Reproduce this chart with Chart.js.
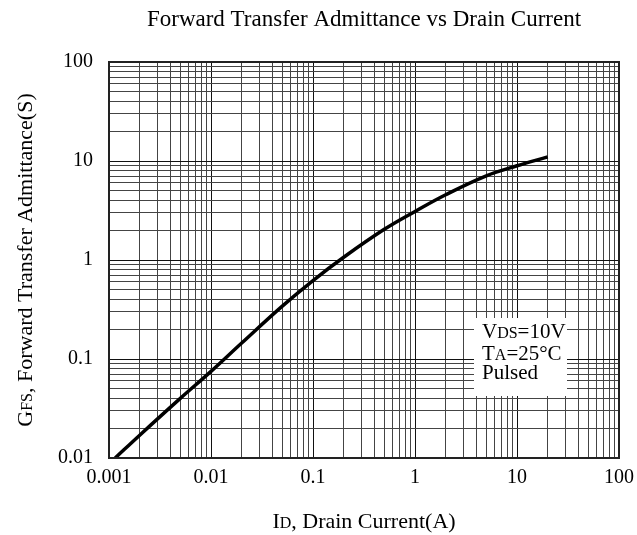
<!DOCTYPE html>
<html>
<head>
<meta charset="utf-8">
<script src="https://cdn.jsdelivr.net/npm/chart.js@4"></script>
<style>
  html, body { margin: 0; padding: 0; background: #fff; }
  #wrap { width: 637px; height: 535px; }
</style>
</head>
<body>
<div id="wrap"><canvas id="chart" width="637" height="535"></canvas></div>
<script>
// --- data ---
const currentA = [0.00115, 0.002, 0.005, 0.01, 0.02, 0.05, 0.1, 0.2, 0.5, 1, 2, 5, 10, 20];
const admittanceS = [0.01, 0.017, 0.040, 0.075, 0.145, 0.342, 0.62, 1.065, 2.04, 3.09, 4.56, 7.08, 8.95, 11.0];

const xTickLabels = ['0.001', '0.01', '0.1', '1', '10', '100'];
const yTickLabels = ['0.01', '0.1', '1', '10', '100'];

const SERIF = '"Liberation Serif", "DejaVu Serif", serif';

// gridlines at 1..9 of every decade
function decadeTicks(labels) {
  const out = [];
  const majors = labels.map(Number);
  for (let i = 0; i < majors.length; i++) {
    const m = majors[i];
    out.push(m);
    if (i < majors.length - 1) for (let k = 2; k <= 9; k++) out.push(+(m * k).toPrecision(3));
  }
  return out;
}
const findLabel = (v, labels) => labels.find(l => Math.abs(Number(l) - v) < Number(l) * 1e-6);

// draw text made of runs [text, size], e.g. subscripts as small caps
function runsWidth(ctx, runs) {
  let w = 0;
  runs.forEach(([t, s]) => { ctx.font = s + 'px ' + SERIF; w += ctx.measureText(t).width; });
  return w;
}
function drawRuns(ctx, runs, x, y, align) {
  let cx = align === 'center' ? x - runsWidth(ctx, runs) / 2 : x;
  ctx.textBaseline = 'alphabetic';
  ctx.textAlign = 'left';
  runs.forEach(([t, s]) => {
    ctx.font = s + 'px ' + SERIF;
    ctx.fillText(t, cx, y);
    cx += ctx.measureText(t).width;
  });
}

const decor = {
  id: 'decor',
  afterDraw(chart) {
    const { ctx, chartArea: a } = chart;
    ctx.save();
    // frame
    ctx.strokeStyle = '#222';
    ctx.lineWidth = 2;
    ctx.strokeRect(a.left, a.top, a.right - a.left, a.bottom - a.top);
    ctx.fillStyle = '#000';
    // main title
    drawRuns(ctx, [['Forward Transfer Admittance vs Drain Current', 23]], (a.left + a.right) / 2, 26, 'center');
    // x title
    drawRuns(ctx, [['I', 22], ['D', 16], [', Drain Current(A)', 22]], (a.left + a.right) / 2, 528, 'center');
    // y title
    ctx.save();
    ctx.translate(32, (a.top + a.bottom) / 2);
    ctx.rotate(-Math.PI / 2);
    drawRuns(ctx, [['G', 22], ['FS', 16], [', Forward Transfer Admittance(S)', 22]], 0, 0, 'center');
    ctx.restore();
    // condition box
    const bx = a.right - 145, by = a.top + 256;
    ctx.fillStyle = '#fff';
    ctx.fillRect(bx, by, 93, 78);
    ctx.fillStyle = '#000';
    drawRuns(ctx, [['V', 21], ['DS', 16], ['=10V', 21]], bx + 8, by + 20, 'left');
    drawRuns(ctx, [['T', 21], ['A', 16], ['=25°C', 21]], bx + 8, by + 42, 'left');
    drawRuns(ctx, [['Pulsed', 21]], bx + 8, by + 61, 'left');
    ctx.restore();
  }
};

new Chart(document.getElementById('chart'), {
  type: 'scatter',
  data: {
    datasets: [{
      data: currentA.map((x, i) => ({ x, y: admittanceS[i] })),
      showLine: true,
      borderColor: '#000',
      borderWidth: 3.5,
      pointRadius: 0,
      tension: 0.4,
      fill: false
    }]
  },
  options: {
    responsive: false,
    animation: false,
    layout: { padding: { top: 62, right: 18, left: 0, bottom: 0 } },
    plugins: { legend: { display: false }, tooltip: { enabled: false } },
    scales: {
      x: {
        type: 'logarithmic',
        min: 0.001, max: 100,
        afterBuildTicks: s => { s.ticks = decadeTicks(xTickLabels).map(v => ({ value: v })); },
        afterFit: s => { s.height = 77; s.paddingLeft = 0; s.paddingRight = 0; },
        ticks: {
          autoSkip: false, maxRotation: 0, padding: 8, color: '#000',
          font: { family: SERIF, size: 20 },
          callback: v => findLabel(v, xTickLabels) || ''
        },
        grid: {
          drawTicks: false,
          color: c => findLabel(c.tick.value, xTickLabels) ? '#111' : '#444',
          lineWidth: 1
        },
        border: { color: '#222', width: 2 }
      },
      y: {
        type: 'logarithmic',
        min: 0.01, max: 100,
        afterBuildTicks: s => { s.ticks = decadeTicks(yTickLabels).map(v => ({ value: v })); },
        afterFit: s => { s.width = 109; s.paddingTop = 0; s.paddingBottom = 0; },
        ticks: {
          autoSkip: false, padding: 16, color: '#000',
          font: { family: SERIF, size: 20 },
          callback: v => findLabel(v, yTickLabels) || ''
        },
        grid: {
          drawTicks: false,
          color: c => findLabel(c.tick.value, yTickLabels) ? '#111' : '#444',
          lineWidth: 1
        },
        border: { color: '#222', width: 2 }
      }
    }
  },
  plugins: [decor]
});
</script>
</body>
</html>
